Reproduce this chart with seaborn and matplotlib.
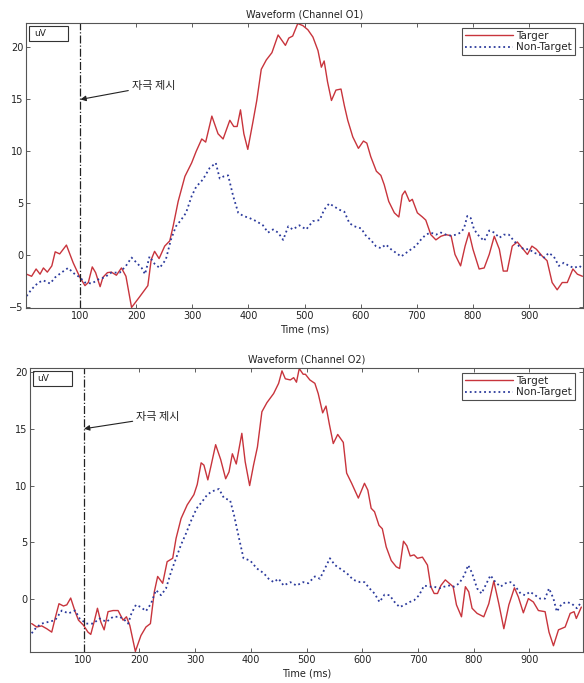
import matplotlib
matplotlib.use("Agg")
import matplotlib.pyplot as plt
import seaborn as sns
import pandas as pd
from matplotlib.patches import Rectangle

# ---------------- data ----------------
o1_target_t = [5, 14, 22, 29, 35, 42, 50, 56, 64, 76, 88, 100, 109, 115, 122, 128, 136, 141, 149, 156,
               165, 174, 182, 192, 206, 221, 227, 233, 241, 251, 260, 266, 275, 287, 299, 307, 317, 324,
               335, 346, 355, 367, 374, 380, 386, 392, 399, 408, 415, 423, 432, 442, 453, 466, 472, 479,
               488, 497, 506, 515, 524, 530, 535, 541, 548, 556, 565, 571, 577, 586, 596, 605, 611, 618,
               628, 636, 642, 650, 660, 668, 674, 679, 687, 692, 701, 710, 716, 725, 734, 743, 752, 761,
               768, 778, 786, 793, 800, 811, 820, 829, 838, 847, 854, 861, 870, 879, 888, 897, 905, 913,
               924, 932, 941, 950, 959, 968, 978, 986, 995]
o1_target_v = [-1.8, -2.0, -1.3, -1.8, -1.2, -1.6, -1.0, 0.35, 0.15, 1.0, -0.7, -2.1, -2.9, -2.6, -1.1,
               -1.65, -3.0, -2.1, -1.65, -1.6, -1.9, -1.2, -2.0, -5.0, -4.0, -2.9, -0.4, 0.4, -0.3, 0.9,
               1.4, 2.8, 5.2, 7.6, 8.9, 10.0, 11.2, 10.9, 13.4, 11.7, 11.2, 13.0, 12.4, 12.4, 14.0, 11.7,
               10.2, 12.8, 14.9, 17.9, 18.8, 19.5, 21.2, 20.2, 20.9, 21.1, 22.3, 22.1, 21.7, 21.0, 19.7,
               18.1, 18.7, 16.7, 14.9, 15.9, 16.0, 14.4, 13.0, 11.4, 10.3, 11.0, 10.8, 9.5, 8.1, 7.7,
               6.8, 5.2, 4.1, 3.7, 5.8, 6.2, 5.2, 5.4, 4.1, 3.7, 3.4, 2.0, 1.5, 1.85, 2.0, 1.9, 0.1,
               -1.0, 0.9, 2.2, 0.6, -1.3, -1.2, 0.1, 1.85, 0.6, -1.5, -1.5, 0.9, 1.3, 0.7, 0.1, 0.9,
               0.6, -0.1, -0.5, -2.6, -3.3, -2.6, -2.6, -1.3, -1.8, -2.0]

o1_nontarget_t = [5, 14, 26, 35, 47, 56, 67, 79, 91, 100, 109, 121, 133, 144, 156, 171, 182, 192, 201,
                  210, 216, 224, 233, 242, 253, 262, 271, 280, 289, 299, 307, 319, 331, 342, 349, 356,
                  364, 373, 382, 391, 402, 414, 426, 435, 444, 453, 462, 471, 479, 491, 503, 515, 527,
                  535, 544, 553, 562, 571, 580, 589, 601, 610, 618, 627, 636, 645, 654, 663, 672, 681,
                  690, 698, 707, 716, 725, 734, 743, 752, 761, 770, 778, 784, 790, 796, 802, 811, 820,
                  829, 838, 847, 855, 864, 873, 882, 891, 900, 909, 918, 927, 935, 944, 953, 962, 971,
                  980, 989, 995]
o1_nontarget_v = [-3.9, -3.25, -2.6, -2.4, -2.7, -2.1, -1.65, -1.2, -1.8, -2.1, -2.6, -2.7, -2.3, -2.1,
                  -1.65, -1.65, -1.0, -0.2, -0.7, -1.2, -1.8, -0.1, -0.8, -1.2, -0.4, 1.5, 2.8, 3.4,
                  4.1, 5.7, 6.6, 7.3, 8.4, 8.9, 7.4, 7.6, 7.7, 5.7, 4.1, 3.8, 3.6, 3.3, 2.9, 2.2, 2.5,
                  2.2, 1.5, 2.8, 2.5, 2.9, 2.5, 3.3, 3.4, 4.4, 5.0, 4.7, 4.4, 4.2, 3.1, 2.8, 2.6, 1.85,
                  1.5, 0.9, 0.7, 1.05, 0.6, 0.25, -0.1, 0.25, 0.6, 0.9, 1.5, 2.0, 2.2, 2.0, 2.2, 2.0,
                  1.9, 2.0, 2.2, 2.6, 3.8, 3.6, 2.5, 1.85, 1.4, 2.4, 2.2, 1.7, 2.0, 2.0, 1.4, 0.9, 0.6,
                  0.6, 0.25, 0.1, -0.2, 0.25, -0.1, -1.0, -0.7, -1.0, -1.2, -1.0, -1.2]

o2_target_t = [7, 16, 25, 34, 43, 49, 56, 64, 70, 77, 85, 91, 100, 108, 113, 119, 125, 131, 137, 144,
               153, 162, 171, 177, 183, 193, 203, 212, 220, 227, 233, 242, 250, 260, 266, 275, 286, 298,
               304, 311, 316, 323, 329, 337, 346, 355, 361, 367, 374, 384, 390, 398, 405, 412, 420, 429,
               441, 450, 456, 462, 471, 477, 482, 487, 494, 498, 506, 515, 521, 529, 535, 541, 548, 556,
               566, 572, 581, 593, 604, 610, 616, 622, 630, 636, 643, 652, 661, 667, 674, 680, 686, 693,
               699, 708, 717, 723, 729, 735, 741, 749, 756, 763, 769, 778, 785, 791, 797, 806, 818, 827,
               836, 845, 854, 863, 873, 880, 889, 898, 907, 916, 928, 935, 943, 952, 964, 973, 980, 984,
               993]
o2_target_v = [-2.15, -2.45, -2.35, -2.6, -2.9, -1.7, -0.4, -0.6, -0.5, 0.1, -1.1, -1.85, -2.3, -2.9,
               -3.1, -2.0, -0.8, -2.0, -2.7, -1.1, -1.0, -1.0, -1.85, -1.55, -2.3, -4.6, -3.2, -2.45,
               -2.15, 0.65, 2.0, 1.4, 3.3, 3.6, 5.35, 7.1, 8.3, 9.2, 10.1, 12.0, 11.8, 10.5, 11.8, 13.6,
               12.3, 10.6, 11.2, 12.8, 11.9, 14.6, 12.1, 10.0, 11.8, 13.4, 16.5, 17.3, 18.1, 19.0, 20.1,
               19.4, 19.3, 19.5, 19.1, 20.3, 19.8, 19.8, 19.3, 19.0, 18.1, 16.4, 17.0, 15.4, 13.7, 14.5,
               13.8, 11.1, 10.2, 8.9, 10.2, 9.6, 8.0, 7.7, 6.5, 6.2, 4.6, 3.4, 2.85, 2.7, 5.1, 4.7, 3.8,
               3.9, 3.6, 3.7, 3.0, 1.1, 0.5, 0.5, 1.2, 1.7, 1.4, 1.1, -0.5, -1.55, 1.1, 0.65, -0.8,
               -1.25, -1.55, -0.4, 1.6, -0.4, -2.6, -0.5, 1.0, 0.2, -1.2, 0.05, -0.25, -1.0, -1.1, -2.9,
               -4.1, -2.7, -2.45, -1.25, -1.1, -1.7, -0.7]

o2_nontarget_t = [7, 16, 25, 37, 49, 61, 73, 85, 93, 105, 117, 129, 141, 153, 165, 174, 180, 186, 194,
                  203, 212, 221, 230, 239, 248, 257, 266, 275, 284, 292, 303, 313, 322, 331, 343, 352,
                  363, 370, 379, 387, 399, 411, 423, 432, 441, 450, 459, 471, 482, 494, 503, 515, 524,
                  533, 542, 551, 560, 572, 584, 596, 604, 613, 622, 631, 640, 649, 658, 667, 676, 685,
                  693, 702, 711, 720, 729, 738, 747, 756, 765, 774, 783, 790, 797, 806, 814, 821, 830,
                  839, 848, 857, 866, 875, 884, 892, 901, 910, 919, 928, 935, 943, 949, 958, 967, 976,
                  985, 993]
o2_nontarget_v = [-3.0, -2.45, -2.15, -2.0, -1.85, -1.0, -1.25, -1.0, -1.7, -2.15, -2.15, -1.7, -2.0,
                  -1.55, -1.55, -1.85, -2.15, -1.25, -0.5, -0.7, -1.05, -0.4, 0.8, 0.35, 0.95, 2.4, 3.6,
                  4.8, 5.8, 6.8, 8.0, 8.6, 9.2, 9.5, 9.7, 8.9, 8.7, 7.4, 5.35, 3.6, 3.4, 2.7, 2.3, 1.8,
                  1.5, 1.8, 1.2, 1.5, 1.2, 1.5, 1.4, 2.0, 1.8, 2.7, 3.6, 3.0, 2.7, 2.3, 1.7, 1.5, 1.5,
                  0.95, 0.5, -0.25, 0.4, 0.35, -0.25, -0.7, -0.5, -0.25, -0.1, 0.35, 1.2, 1.1, 1.1, 0.95,
                  1.1, 1.2, 1.1, 1.4, 2.1, 3.0, 2.3, 0.95, 0.5, 1.2, 2.1, 1.5, 1.1, 1.4, 1.5, 1.1, 0.5,
                  0.35, 0.65, 0.35, 0.05, 0.05, 0.95, 0.05, -1.1, -0.4, -0.25, -0.4, -0.8, -0.25]

x_ticks = [100, 200, 300, 400, 500, 600, 700, 800, 900]
y_ticks_o1 = [-5, 0, 5, 10, 15, 20]
y_ticks_o2 = [0, 5, 10, 15, 20]
titles = ["Waveform (Channel O1)", "Waveform (Channel O2)"]
legend_labels = [["Targer", "Non-Target"], ["Target", "Non-Target"]]
annot_text = "자극 제시"

# ---------------- style ----------------
sns.set_style("ticks")
plt.rcParams['font.family'] = ['DejaVu Sans']
plt.rcParams['xtick.direction'] = 'in'
plt.rcParams['ytick.direction'] = 'in'

RED = '#c8343c'
BLUE = '#2b3a9c'

fig = plt.figure(figsize=(5.84, 6.83), dpi=100)
ax1 = fig.add_axes([26/584, 1-308/683, 557/584, 285/683])
ax2 = fig.add_axes([30/584, 1-652/683, 553/584, 284/683])

panels = [
    (ax1, o1_target_t, o1_target_v, o1_nontarget_t, o1_nontarget_v, (-5.05, 22.35), y_ticks_o1,
     (192, 16.3), (1 - 8/557, 1 - 5/285)),
    (ax2, o2_target_t, o2_target_v, o2_nontarget_t, o2_nontarget_v, (-4.65, 20.35), y_ticks_o2,
     (194, 16.0), (1 - 8/553, 1 - 5/284)),
]

for i, (ax, tt, tv, nt, nv, ylim, yt, txt, lanchor) in enumerate(panels):
    df_t = pd.DataFrame({"t": tt, "v": tv})
    df_n = pd.DataFrame({"t": nt, "v": nv})
    sns.lineplot(data=df_t, x="t", y="v", ax=ax, color=RED, lw=1.0,
                 label=legend_labels[i][0])
    sns.lineplot(data=df_n, x="t", y="v", ax=ax, color=BLUE, lw=1.3, ls=':',
                 label=legend_labels[i][1])
    ax.axvline(100, color='#222222', ls='-.', lw=0.9)
    ax.set_xlim(4, 996)
    ax.set_ylim(*ylim)
    ax.set_xticks(x_ticks)
    ax.set_yticks(yt)
    ax.tick_params(axis='both', labelsize=7, length=3, width=0.6, color='#444444',
                   top=True, right=True, pad=2, labelcolor='#222222')
    for s in ax.spines.values():
        s.set_linewidth(0.8)
        s.set_color('#555555')
    ax.set_title(titles[i], fontsize=7, pad=4, color='#222222')
    ax.set_xlabel("Time (ms)", fontsize=7, labelpad=3, color='#222222')
    ax.set_ylabel("")
    leg = ax.legend(loc='upper right', bbox_to_anchor=lanchor, fontsize=7.5, frameon=True,
                    fancybox=False, handlelength=4.6, borderpad=0.3, labelspacing=0.1,
                    handletextpad=0.3, borderaxespad=0.0)
    leg.get_frame().set_edgecolor('#222222')
    leg.get_frame().set_linewidth(0.8)
    # uV box
    ax.add_patch(Rectangle((0.006, 0.937), 0.07, 0.052, transform=ax.transAxes,
                           fill=False, ec='#333333', lw=0.8))
    ax.text(0.014, 0.963, "uV", transform=ax.transAxes, fontsize=6.5,
            va='center', ha='left', color='#222222')
    ax.annotate(annot_text, xy=(101, 15), xytext=txt,
                fontsize=8, va='center', ha='left', color='#222222',
                family=['Noto Sans CJK KR', 'DejaVu Sans'],
                arrowprops=dict(arrowstyle='-|>', color='#222222', lw=0.8,
                                mutation_scale=8, shrinkA=0, shrinkB=0))

fig.savefig("out.png", dpi=100)
